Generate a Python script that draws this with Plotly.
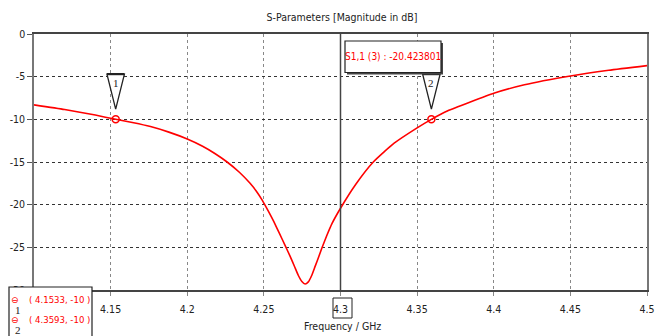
import plotly.graph_objects as go

# ---- data ----
freq = [4.100, 4.120, 4.140, 4.1533, 4.165, 4.176, 4.188, 4.200, 4.210, 4.218,
        4.226, 4.234, 4.241, 4.245, 4.249, 4.253, 4.2565, 4.260, 4.2639, 4.267,
        4.270, 4.2725, 4.2748, 4.2769, 4.279, 4.2812, 4.2835, 4.2858, 4.2878, 4.291,
        4.2945, 4.300, 4.310, 4.3214, 4.335, 4.350, 4.3593, 4.370, 4.385, 4.400,
        4.420, 4.450, 4.475, 4.500]
s11_db = [-8.3, -8.85, -9.5, -10.0, -10.4, -10.85, -11.5, -12.3, -13.15, -14.0,
          -15.0, -16.2, -17.5, -18.4, -19.5, -20.8, -22.0, -23.3, -24.8, -26.0,
          -27.25, -28.3, -29.0, -29.3, -29.05, -28.3, -27.2, -26.1, -25.1, -23.65,
          -22.2, -20.42, -17.6, -15.0, -12.8, -11.0, -10.0, -9.0, -7.95, -6.95,
          -5.95, -4.92, -4.25, -3.7]

marker_ids = ["1", "2"]
marker_x = [4.1533, 4.3593]
marker_y = [-10, -10]
probe_x = 4.3
probe_label = "S1,1 (3) : -20.423801"

x_ticks = [4.1, 4.15, 4.2, 4.25, 4.3, 4.35, 4.4, 4.45, 4.5]
x_tick_text = ["", "4.15", "4.2", "4.25", "4.3", "4.35", "4.4", "4.45", "4.5"]
y_ticks = [0, -5, -10, -15, -20, -25, -30]
y_tick_text = ["0", "-5", "-10", "-15", "-20", "-25", "-30"]

title = "S-Parameters [Magnitude in dB]"
x_title = "Frequency / GHz"

FONT = "DejaVu Sans Condensed"
RED = "#ff0000"
INK = "#222222"

# plot-area geometry in pixels
L, R, T, B = 34, 18, 34, 46
PW, PH = 665 - L - R, 336 - T - B


def px_x(p):
    return (p - L) / PW


def px_y(p):
    return (336 - B - p) / PH


fig = go.Figure()
fig.add_trace(go.Scatter(x=freq, y=s11_db, mode="lines",
                         line=dict(color=RED, width=1.6, shape="spline", smoothing=0.5),
                         hoverinfo="skip", showlegend=False))
fig.add_trace(go.Scatter(x=marker_x, y=marker_y, mode="markers",
                         marker=dict(symbol="circle-open", size=7, color=RED,
                                     line=dict(width=1.5, color=RED)),
                         showlegend=False))

shapes = []
annotations = []
shapes.append(dict(type="line", xref="x", yref="paper", x0=probe_x, x1=probe_x, y0=0, y1=1,
                   line=dict(color="#444444", width=1.5), layer="above"))

hw = 0.0057
for mid, mx, my in zip(marker_ids, marker_x, marker_y):
    tip = my + 1.2
    top = my + 5.3
    path = f"M {mx-hw},{top} L {mx+hw},{top} L {mx},{tip} Z"
    shapes.append(dict(type="path", path=path, xref="x", yref="y",
                       fillcolor="white", line=dict(color=INK, width=1.3), layer="above"))
    shapes.append(dict(type="line", xref="x", yref="y", x0=mx-hw, x1=mx+hw, y0=top, y1=top,
                       line=dict(color=INK, width=2.2), layer="above"))
    annotations.append(dict(x=mx, y=my + 4.2, xref="x", yref="y", text=mid, showarrow=False,
                            xanchor="center", yanchor="middle",
                            font=dict(family="Liberation Serif", size=11, color=INK)))

# probe value box
shapes.append(dict(type="rect", xref="paper", yref="paper",
                   x0=px_x(347), x1=px_x(443), y0=px_y(74.5), y1=px_y(43),
                   fillcolor="#444444", line=dict(width=0), layer="above"))
shapes.append(dict(type="rect", xref="paper", yref="paper",
                   x0=px_x(345), x1=px_x(441), y0=px_y(72.5), y1=px_y(41),
                   fillcolor="white", line=dict(color=INK, width=1.2), layer="above"))
annotations.append(dict(x=px_x(393), y=px_y(56.5), xref="paper", yref="paper",
                        xanchor="center", yanchor="middle",
                        text=probe_label, showarrow=False,
                        font=dict(family=FONT, size=10, color=RED)))

# boxed 4.3 tick label
shapes.append(dict(type="rect", xref="paper", yref="paper",
                   x0=px_x(333), x1=px_x(352), y0=px_y(318), y1=px_y(298),
                   fillcolor="rgba(0,0,0,0)", line=dict(color=INK, width=1), layer="above"))

# bottom-left marker legend box
shapes.append(dict(type="rect", xref="paper", yref="paper",
                   x0=px_x(9), x1=px_x(92), y0=px_y(340), y1=px_y(287),
                   fillcolor="white", line=dict(color=INK, width=1.2), layer="above"))
row_y = [299.5, 319.5]
for mid, mx, my, ry in zip(marker_ids, marker_x, marker_y, row_y):
    annotations.append(dict(x=px_x(15), y=px_y(ry), xref="paper", yref="paper",
                            xanchor="center", yanchor="middle",
                            text="\u2296", showarrow=False,
                            font=dict(family="DejaVu Sans", size=9, color=RED)))
    annotations.append(dict(x=px_x(18), y=px_y(ry + 10), xref="paper", yref="paper",
                            xanchor="center", yanchor="middle",
                            text=mid, showarrow=False,
                            font=dict(family="Liberation Serif", size=11, color=INK)))
    annotations.append(dict(x=px_x(27), y=px_y(ry), xref="paper", yref="paper",
                            xanchor="left", yanchor="middle",
                            text=f"( {mx:.4f}, {my:g} )", showarrow=False,
                            font=dict(family=FONT, size=9.5, color=RED)))

annotations.append(dict(x=px_x(342), y=px_y(326), xref="paper", yref="paper", text=x_title,
                        xanchor="center", yanchor="middle",
                        showarrow=False, font=dict(family=FONT, size=10.5, color=INK)))

fig.update_layout(
    width=665, height=336,
    margin=dict(l=L, r=R, t=T, b=B, autoexpand=False),
    paper_bgcolor="white", plot_bgcolor="white",
    title=dict(text=title, x=342 / 665, xanchor="center", y=1 - 17 / 336, yanchor="middle",
               font=dict(family=FONT, size=10.5, color=INK)),
    font=dict(family=FONT, size=10.5, color=INK),
    xaxis=dict(range=[4.1, 4.5], tickvals=x_ticks, ticktext=x_tick_text,
               showgrid=True, gridcolor="#888888", griddash="dot", gridwidth=1,
               ticks="outside", ticklen=4, tickcolor="#888888", ticklabelstandoff=5,
               showline=True, linecolor="#444444", linewidth=1.5, mirror=True,
               zeroline=False, fixedrange=True),
    yaxis=dict(range=[-30, 0], tickvals=y_ticks, ticktext=y_tick_text,
               showgrid=True, gridcolor="#333333", griddash="dot", gridwidth=1,
               ticks="outside", ticklen=5, tickcolor="#555555",
               showline=True, linecolor="#777777", linewidth=1.5, mirror=True,
               zeroline=False, fixedrange=True),
    shapes=shapes, annotations=annotations, showlegend=False,
)

fig.write_html("out.html", config={"displayModeBar": False},
               post_script="document.body.style.margin='0';document.body.style.overflow='hidden';")
